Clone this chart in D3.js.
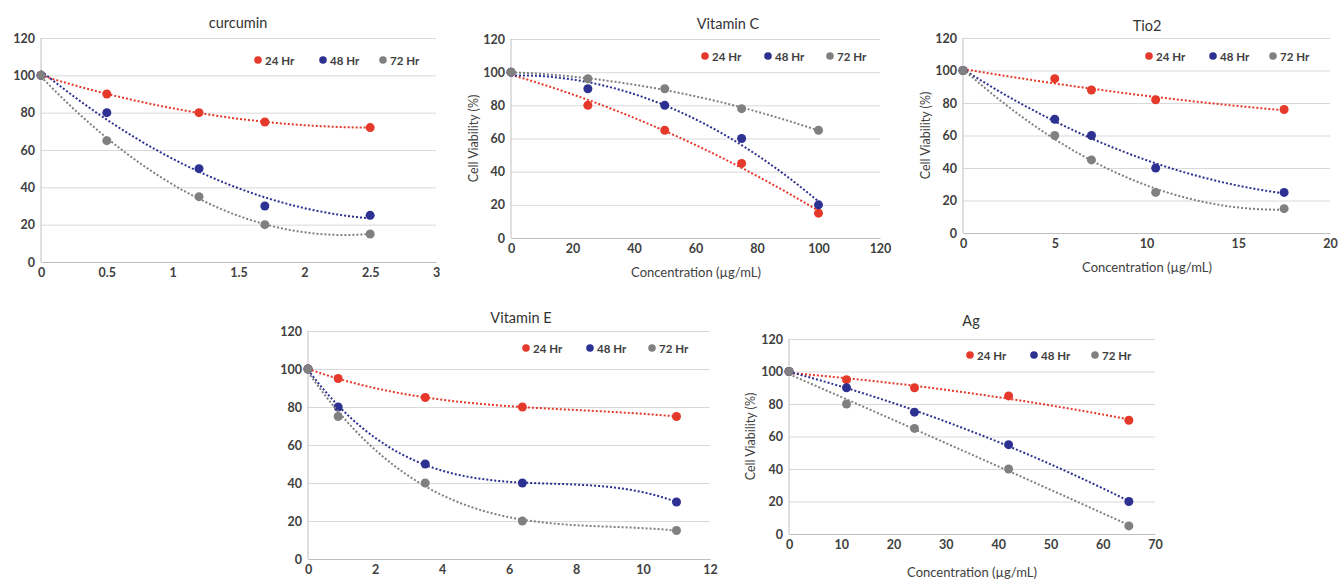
<!DOCTYPE html>
<html>
<head>
<meta charset="utf-8">
<script src="https://cdn.jsdelivr.net/npm/d3@7"></script>
<style>
  body { margin: 0; background: #fff; }
  svg { display: block; }
  text { font-family: Lato, "Open Sans", sans-serif; }
</style>
</head>
<body>
<svg width="1339" height="581"></svg>
<script>
var svg = d3.select("svg");

var hours = ["24 Hr", "48 Hr", "72 Hr"];
var colors = ["#e5392b", "#2d3192", "#808080"];
var yTicks = [0, 20, 40, 60, 80, 100, 120];

// curcumin
var curcuminX = [0, 0.5, 1.2, 1.7, 2.5];
var curcumin24 = [100, 90, 80, 75, 72];
var curcumin48 = [100, 80, 50, 30, 25];
var curcumin72 = [100, 65, 35, 20, 15];
var curcuminTicks = [0, 0.5, 1, 1.5, 2, 2.5, 3];

// Vitamin C
var vitCX = [0, 25, 50, 75, 100];
var vitC24 = [100, 80, 65, 45, 15];
var vitC48 = [100, 90, 80, 60, 20];
var vitC72 = [100, 96, 90, 78, 65];
var vitCTicks = [0, 20, 40, 60, 80, 100, 120];

// Tio2
var tio2X = [0, 5, 7, 10.5, 17.5];
var tio224 = [100, 95, 88, 82, 76];
var tio248 = [100, 70, 60, 40, 25];
var tio272 = [100, 60, 45, 25, 15];
var tio2Ticks = [0, 5, 10, 15, 20];

// Vitamin E
var vitEX = [0, 0.9, 3.5, 6.4, 11];
var vitE24 = [100, 95, 85, 80, 75];
var vitE48 = [100, 80, 50, 40, 30];
var vitE72 = [100, 75, 40, 20, 15];
var vitETicks = [0, 2, 4, 6, 8, 10, 12];

// Ag
var agX = [0, 11, 24, 42, 65];
var ag24 = [100, 95, 90, 85, 70];
var ag48 = [100, 90, 75, 55, 20];
var ag72 = [100, 80, 65, 40, 5];
var agTicks = [0, 10, 20, 30, 40, 50, 60, 70];

var panels = [
  {title: "curcumin", xs: curcuminX, series: [curcumin24, curcumin48, curcumin72], ticks: curcuminTicks, order: 2,
   left: 41, right: 436, top: 38, bottom: 262, titleX: 238, titleY: 22, legend: [258, 323, 383], legendY: 60, labels: false},
  {title: "Vitamin C", xs: vitCX, series: [vitC24, vitC48, vitC72], ticks: vitCTicks, order: 2,
   left: 511, right: 880, top: 39, bottom: 238, titleX: 728, titleY: 23, legend: [705, 768, 830], legendY: 56, labels: true,
   yLabelX: 473, xLabelY: 272, xLabelX: 696},
  {title: "Tio2", xs: tio2X, series: [tio224, tio248, tio272], ticks: tio2Ticks, order: 2,
   left: 963, right: 1330, top: 38, bottom: 233, titleX: 1147, titleY: 25, legend: [1149, 1213, 1273], legendY: 56, labels: true,
   yLabelX: 925, xLabelY: 267, xLabelX: 1147},
  {title: "Vitamin E", xs: vitEX, series: [vitE24, vitE48, vitE72], ticks: vitETicks, order: 3,
   left: 308, right: 710, top: 331, bottom: 559, titleX: 521, titleY: 317, legend: [526, 590, 652], legendY: 348, labels: false},
  {title: "Ag", xs: agX, series: [ag24, ag48, ag72], ticks: agTicks, order: 2,
   left: 789, right: 1155, top: 339, bottom: 534, titleX: 971, titleY: 320, legend: [970, 1034, 1095], legendY: 355, labels: true,
   yLabelX: 750, xLabelY: 572, xLabelX: 972}
];

// least squares polynomial trendline (like the spreadsheet trendline)
function polyfit(xs, ys, order) {
  var s = d3.max(xs), n = order + 1;
  var A = [], b = [];
  for (var i = 0; i < n; i++) {
    A.push([]);
    b.push(d3.sum(xs, function(x, k) { return ys[k] * Math.pow(x / s, i); }));
    for (var j = 0; j < n; j++) A[i].push(d3.sum(xs, function(x) { return Math.pow(x / s, i + j); }));
  }
  for (var c = 0; c < n; c++) {
    var p = c;
    for (var r = c + 1; r < n; r++) if (Math.abs(A[r][c]) > Math.abs(A[p][c])) p = r;
    var t = A[c]; A[c] = A[p]; A[p] = t; t = b[c]; b[c] = b[p]; b[p] = t;
    for (var r2 = c + 1; r2 < n; r2++) {
      var f = A[r2][c] / A[c][c];
      for (var k = c; k < n; k++) A[r2][k] -= f * A[c][k];
      b[r2] -= f * b[c];
    }
  }
  var coef = new Array(n);
  for (var i2 = n - 1; i2 >= 0; i2--) {
    var v = b[i2];
    for (var k2 = i2 + 1; k2 < n; k2++) v -= A[i2][k2] * coef[k2];
    coef[i2] = v / A[i2][i2];
  }
  return function(x) {
    var u = x / s;
    return d3.sum(coef, function(a, i) { return a * Math.pow(u, i); });
  };
}

panels.forEach(function(p) {
  var x = d3.scaleLinear().domain(d3.extent(p.ticks)).range([p.left, p.right]);
  var y = d3.scaleLinear().domain([0, 120]).range([p.bottom, p.top]);
  var g = svg.append("g");

  // gridlines + y ticks
  var ya = g.append("g")
      .attr("transform", "translate(" + p.left + ",0)")
      .call(d3.axisLeft(y).tickValues(yTicks).tickSize(-(p.right - p.left)).tickPadding(6));
  ya.select(".domain").remove();
  ya.selectAll("line").attr("stroke", "#d9d9d9");
  ya.selectAll("text").attr("fill", "#404040").style("font-size", "12.5px").style("font-weight", "bold");

  var xa = g.append("g")
      .attr("transform", "translate(0," + p.bottom + ")")
      .call(d3.axisBottom(x).tickValues(p.ticks).tickSize(0).tickPadding(6).tickFormat(d3.format("")));
  xa.select(".domain").attr("stroke", "#bfbfbf");
  xa.selectAll("text").attr("fill", "#404040").style("font-size", "12.5px").style("font-weight", "bold");

  g.append("line")
      .attr("x1", p.left).attr("x2", p.left)
      .attr("y1", p.top).attr("y2", p.bottom)
      .attr("stroke", "#bfbfbf");

  g.append("text")
      .attr("x", p.titleX).attr("y", p.titleY)
      .attr("text-anchor", "middle").attr("dominant-baseline", "central")
      .attr("fill", "#333")
      .style("font-size", "14.5px")
      .text(p.title);

  if (p.labels) {
    g.append("text")
        .attr("transform", "translate(" + p.yLabelX + "," + ((p.top + p.bottom) / 2) + ") rotate(-90)")
        .attr("text-anchor", "middle").attr("dominant-baseline", "central")
        .attr("fill", "#404040")
        .style("font-size", "12.5px")
        .text("Cell Viability (%)");
    g.append("text")
        .attr("x", p.xLabelX).attr("y", p.xLabelY)
        .attr("text-anchor", "middle").attr("dominant-baseline", "central")
        .attr("fill", "#404040")
        .style("font-size", "13px")
        .text("Concentration (\u00b5g/mL)");
  }

  var line = d3.line()
      .x(function(d) { return x(d[0]); })
      .y(function(d) { return y(d[1]); });

  p.series.forEach(function(ys, i) {
    var fit = polyfit(p.xs, ys, p.order);
    var xmax = d3.max(p.xs);
    var pts = d3.range(0, 101).map(function(k) { var xv = xmax * k / 100; return [xv, fit(xv)]; });

    g.append("g").selectAll("circle")
        .data(p.xs.map(function(xv, k) { return [xv, ys[k]]; }))
        .enter().append("circle")
        .attr("cx", function(d) { return x(d[0]); })
        .attr("cy", function(d) { return y(d[1]); })
        .attr("r", 4.5)
        .attr("fill", colors[i]);

    g.append("path")
        .datum(pts)
        .attr("d", line)
        .attr("fill", "none")
        .attr("stroke", colors[i])
        .attr("stroke-width", 2)
        .attr("stroke-dasharray", "2,2");
  });

  // legend
  hours.forEach(function(h, i) {
    g.append("circle")
        .attr("cx", p.legend[i]).attr("cy", p.legendY)
        .attr("r", 3.8).attr("fill", colors[i]);
    g.append("text")
        .attr("x", p.legend[i] + 7).attr("y", p.legendY)
        .attr("dominant-baseline", "central")
        .attr("fill", "#404040")
        .style("font-size", "11.5px").style("font-weight", "bold")
        .text(h);
  });
});
</script>
</body>
</html>
